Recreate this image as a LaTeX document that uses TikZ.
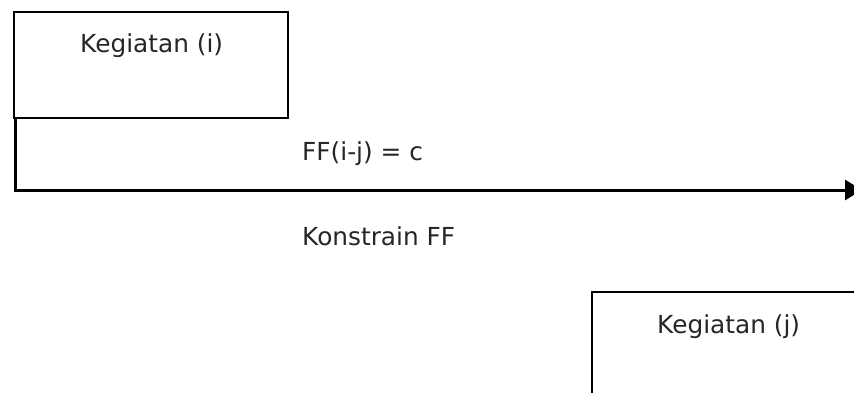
\documentclass[tikz,border=0pt]{standalone}
\usepackage{fontspec}
\setmainfont{DejaVu Sans}
\usetikzlibrary{arrows.meta}
\begin{document}
\begin{tikzpicture}[x=1pt,y=-1pt,
  actbox/.style={draw=black,line width=1.3pt,inner sep=0pt},
  lbl/.style={anchor=base west,inner sep=0pt,font=\fontsize{24.8}{28}\selectfont,text=black!85},
  flow/.style={line width=3pt,-{Triangle[length=17pt,width=20pt]}}]
  \clip (0,0) rectangle (854,392);
  \fill[white] (0,0) rectangle (854,392);
  % activity i
  \draw[actbox] (14,12) coordinate (ia) rectangle (288,118) coordinate (ib);
  \node[lbl] (ti) at (80,52) {Kegiatan (i)};
  % finish-to-finish link
  \coordinate (isw) at (15,118);
  \coordinate (tip) at (862,190);
  \draw[flow] (isw) |- (tip);
  \node[lbl] (ff) at (302,160) {FF(i-j) = c};
  \node[lbl] (kff) at (302,245) {Konstrain FF};
  % activity j (continues past the frame)
  \draw[actbox] (592,292) coordinate (ja) rectangle (900,450);
  \node[lbl] (tj) at (657,333) {Kegiatan (j)};
\end{tikzpicture}
\end{document}
